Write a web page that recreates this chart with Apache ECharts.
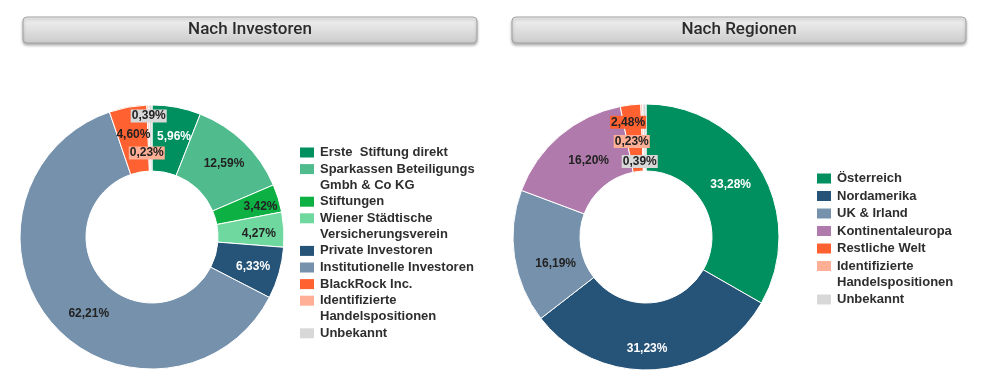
<!DOCTYPE html>
<html>
<head>
<meta charset="utf-8">
<script src="https://cdn.jsdelivr.net/npm/echarts@6/dist/echarts.min.js"></script>
<style>
html,body{margin:0;padding:0;background:#fff;}
#chart{width:985px;height:378px;}
</style>
</head>
<body>
<div id="chart"></div>
<script>
// ---- data ----
const investorNames = ['Erste  Stiftung direkt', 'Sparkassen Beteiligungs\nGmbh & Co KG', 'Stiftungen', 'Wiener Städtische\nVersicherungsverein', 'Private Investoren', 'Institutionelle Investoren', 'BlackRock Inc.', 'Identifizierte\nHandelspositionen', 'Unbekannt'];
const investorValues = [5.96, 12.59, 3.42, 4.27, 6.33, 62.21, 4.60, 0.23, 0.39];
const regionNames = ['Österreich', 'Nordamerika', 'UK & Irland', 'Kontinentaleuropa', 'Restliche Welt', 'Identifizierte\nHandelspositionen', 'Unbekannt'];
const regionValues = [33.28, 31.23, 16.19, 16.20, 2.48, 0.23, 0.39];
const panelTitles = ['Nach Investoren', 'Nach Regionen'];

// ---- styles ----
const investorColors = ['#008f5e', '#50bc8e', '#0db043', '#6fd89f', '#265378', '#7591ac', '#ff6131', '#ffaf95', '#d8d8d8'];
const regionColors = ['#008f5e', '#265378', '#7591ac', '#b07bac', '#ff6131', '#ffaf95', '#d8d8d8'];
const investorLabelColors = ['#fff', '#222', '#222', '#222', '#fff', '#222', '#222', '#222', '#222'];
const regionLabelColors = ['#fff', '#fff', '#222', '#222', '#222', '#222', '#222'];
const investorLabelNudge = [[3,0],[1,0],[11,0],[5,2],[3,2],[14,10],[0,-2],[-2,18],[-2,-19]];
const regionLabelNudge = [[-4,-1],[-6,9],[11,11],[9,2],[-6,-13],[-11,7],[-5,27]];

const FONT = '"Liberation Sans", Arial, sans-serif';

function fmtPct(v) { return v.toFixed(2).replace('.', ',') + '%'; }

function buildData(names, values, colors, labelColors) {
  return names.map((n, i) => {
    const small = values[i] < 3;
    return {
      name: n,
      value: values[i],
      itemStyle: { color: colors[i] },
      label: {
        color: labelColors[i],
        backgroundColor: small ? colors[i] : 'transparent',
        padding: small ? [1, 1, 0, 1] : 0
      }
    };
  });
}

function buildRich(colors) {
  const rich = {
    t: { fontFamily: FONT, fontSize: 13, fontWeight: 'bold', color: '#2e2e2e', lineHeight: 16, padding: [0, 0, 0, 6] },
    s: { width: 14, height: 10, lineHeight: 16 }
  };
  colors.forEach((c, i) => {
    rich['m' + i] = { width: 14, height: 10, backgroundColor: c, lineHeight: 16 };
  });
  return rich;
}

function legendFormatter(names) {
  return function (name) {
    const i = names.indexOf(name);
    const lines = name.split('\n');
    return lines.map((l, k) => (k === 0 ? '{m' + i + '|}' : '{s|}') + '{t|' + l + '}').join('\n');
  };
}

function titleBar(x, text) {
  return {
    type: 'group',
    children: [
      {
        type: 'rect',
        shape: { x: x, y: 17, width: 454, height: 26, r: 4 },
        style: {
          fill: new echarts.graphic.LinearGradient(0, 0, 0, 1, [
            { offset: 0, color: '#f3f3f3' },
            { offset: 1, color: '#cbcbcb' }
          ]),
          stroke: '#a3a3a3',
          lineWidth: 1,
          shadowBlur: 3,
          shadowOffsetY: 2,
          shadowColor: 'rgba(0,0,0,0.3)'
        }
      },
      {
        type: 'text',
        x: x + 227,
        y: 30,
        style: {
          text: text,
          font: '500 17px Roboto, sans-serif',
          fill: '#2b2b2b',
          align: 'center',
          verticalAlign: 'middle'
        }
      }
    ]
  };
}

const pieBase = {
  type: 'pie',
  startAngle: 90,
  clockwise: true,
  avoidLabelOverlap: false,
  animation: false,
  itemStyle: { borderColor: '#fff', borderWidth: 1 },
  label: {
    show: true,
    position: 'inside',
    fontFamily: FONT,
    fontSize: 12,
    fontWeight: 'bold',
    formatter: p => fmtPct(p.value)
  },
  labelLine: { show: false },
  emphasis: { disabled: true }
};

const nudges = [investorLabelNudge, regionLabelNudge];

const chart = echarts.init(document.getElementById('chart'));
chart.setOption({
  animation: false,
  graphic: [titleBar(23, panelTitles[0]), titleBar(512, panelTitles[1])],
  legend: [
    {
      orient: 'vertical',
      left: 289,
      top: 141,
      itemWidth: 0,
      itemHeight: 10,
      itemGap: 3.6,
      itemStyle: { opacity: 0 },
      selectedMode: false,
      data: investorNames,
      formatter: legendFormatter(investorNames),
      textStyle: { rich: buildRich(investorColors) }
    },
    {
      orient: 'vertical',
      left: 806,
      top: 167,
      itemWidth: 0,
      itemHeight: 10,
      itemGap: 4.5,
      itemStyle: { opacity: 0 },
      selectedMode: false,
      data: regionNames,
      formatter: legendFormatter(regionNames),
      textStyle: { rich: buildRich(regionColors) }
    }
  ],
  series: [
    Object.assign({}, pieBase, {
      center: [152, 237],
      radius: [66, 132],
      data: buildData(investorNames, investorValues, investorColors, investorLabelColors),
      labelLayout: p => ({ dx: nudges[0][p.dataIndex][0], dy: nudges[0][p.dataIndex][1] })
    }),
    Object.assign({}, pieBase, {
      center: [646, 237],
      radius: [66, 133],
      data: buildData(regionNames, regionValues, regionColors, regionLabelColors),
      labelLayout: p => ({ dx: nudges[1][p.dataIndex][0], dy: nudges[1][p.dataIndex][1] })
    })
  ]
});
</script>
</body>
</html>
